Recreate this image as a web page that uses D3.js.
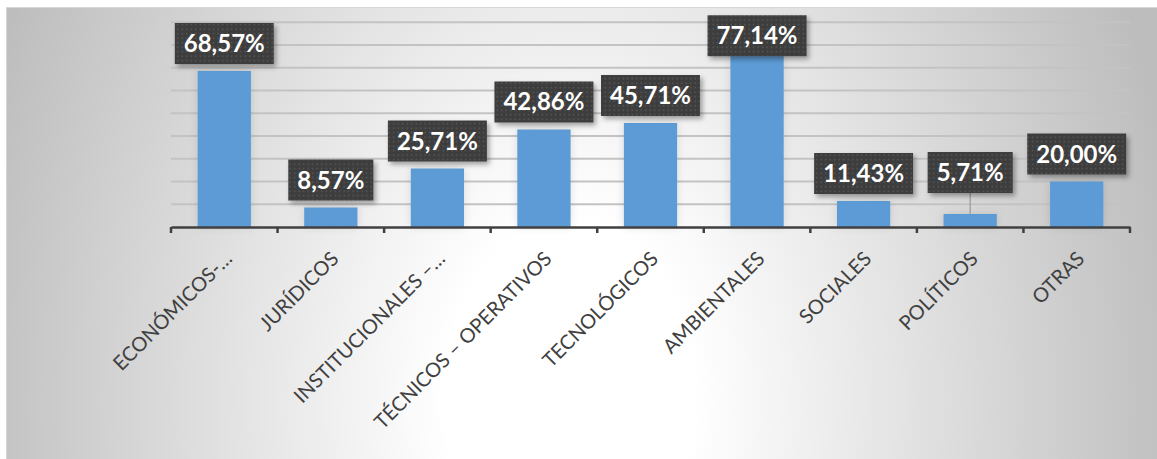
<!DOCTYPE html>
<html>
<head>
<meta charset="utf-8">
<script src="https://cdn.jsdelivr.net/npm/d3@7"></script>
<style>
  html, body { margin: 0; padding: 0; background: #ffffff; }
  svg { display: block; }
</style>
</head>
<body>
<svg id="chart" width="1157" height="459"></svg>
<script>
// Categories and percentage values
const categories = [
  "ECONÓMICOS-…", "JURÍDICOS", "INSTITUCIONALES –…", "TÉCNICOS – OPERATIVOS",
  "TECNOLÓGICOS", "AMBIENTALES", "SOCIALES", "POLÍTICOS", "OTRAS"
];
const values = [68.57, 8.57, 25.71, 42.86, 45.71, 77.14, 11.43, 5.71, 20.00];
const gridTicks = [10, 20, 30, 40, 50, 60, 70, 80, 90];

const W = 1157, H = 459;
const svg = d3.select("#chart");
const defs = svg.append("defs");

// Background: soft radial fade from white to grey
const bg = defs.append("radialGradient")
  .attr("id", "bgGrad")
  .attr("gradientUnits", "userSpaceOnUse")
  .attr("cx", 570).attr("cy", 400).attr("r", 620)
  .attr("gradientTransform", "translate(570,400) scale(1,1.45) translate(-570,-400)");
bg.append("stop").attr("offset", 0).attr("stop-color", "#ffffff");
bg.append("stop").attr("offset", 0.2).attr("stop-color", "#ffffff");
bg.append("stop").attr("offset", 1).attr("stop-color", "#bdbdbd");

// Dotted fill for the value labels
const pat = defs.append("pattern")
  .attr("id", "dots").attr("patternUnits", "userSpaceOnUse")
  .attr("width", 4.5).attr("height", 4.5);
pat.append("rect").attr("width", 4.5).attr("height", 4.5).attr("fill", "#3d3d3d");
pat.append("rect").attr("x", 1.5).attr("y", 1.5).attr("width", 1.4).attr("height", 1.4).attr("fill", "#5c5c5c");

// Shadows
const sh = defs.append("filter").attr("id", "boxShadow")
  .attr("x", "-20%").attr("y", "-30%").attr("width", "150%").attr("height", "170%");
sh.append("feDropShadow").attr("dx", 2.5).attr("dy", 3).attr("stdDeviation", 2.5)
  .attr("flood-color", "#000").attr("flood-opacity", 0.35);
const bsh = defs.append("filter").attr("id", "barShadow")
  .attr("x", "-40%").attr("y", "-10%").attr("width", "180%").attr("height", "120%");
bsh.append("feDropShadow").attr("dx", 0).attr("dy", 0).attr("stdDeviation", 4)
  .attr("flood-color", "#000").attr("flood-opacity", 0.12);

svg.append("rect")
  .attr("x", 6.5).attr("y", 7.5).attr("width", W - 6).attr("height", H - 7)
  .attr("fill", "url(#bgGrad)").attr("stroke", "#d6d6d6").attr("stroke-width", 1);

// Scales
const x = d3.scaleBand().domain(categories).range([171, 1130]).paddingInner(0.5).paddingOuter(0.25);
const band = d3.scaleBand().domain(categories).range([171, 1130]);
const y = d3.scaleLinear().domain([0, 90]).range([227, 22.25]);

// Gridlines
svg.append("g")
  .selectAll("line").data(gridTicks).join("line")
  .attr("x1", 171).attr("x2", 1130)
  .attr("y1", d => y(d)).attr("y2", d => y(d))
  .attr("stroke", "#c3c3c3").attr("stroke-width", 2);

// Bars
svg.append("g").attr("filter", "url(#barShadow)")
  .selectAll("rect").data(values).join("rect")
  .attr("x", (d, i) => x(categories[i]))
  .attr("width", x.bandwidth())
  .attr("y", d => y(d))
  .attr("height", d => y(0) - y(d))
  .attr("fill", "#5b9bd5");

// Category axis
const axis = d3.axisBottom(band).tickSize(0).tickFormat("");
const axG = svg.append("g").attr("transform", `translate(0,${y(0)})`).call(axis);
axG.select(".domain").attr("stroke", "#404040").attr("stroke-width", 2.5);
const edges = categories.map(c => band(c)).concat([1130]);
axG.append("g").selectAll("line").data(edges).join("line")
  .attr("x1", d => d).attr("x2", d => d)
  .attr("y1", 0).attr("y2", 6)
  .attr("stroke", "#404040").attr("stroke-width", 2.5);

// Rotated category labels
svg.append("g").selectAll("text").data(categories).join("text")
  .attr("transform", c => `translate(${band(c) + band.bandwidth() / 2 + 9},${y(0) + 33}) rotate(-45)`)
  .attr("text-anchor", "end")
  .attr("font-family", "Lato, 'Open Sans', sans-serif")
  .attr("font-size", 20)
  .attr("fill", "#404040")
  .text(c => c);

// Value labels in dark boxes above the bars
const fmt = v => v.toFixed(2).replace(".", ",") + "%";
const labelLift = { "POLÍTICOS": 14 };
const boxH = 41, gap = 7, padX = 9;
const minTop = y(90) - gap;
const lbl = svg.append("g");
values.forEach((v, i) => {
  const c = categories[i];
  const cx = x(c) + x.bandwidth() / 2;
  const lift = labelLift[c] || 0;
  let top = y(v) - gap - boxH - lift;
  if (top < minTop) top = minTop;
  const g = lbl.append("g");
  const t = g.append("text")
    .attr("x", cx).attr("y", top + boxH / 2 + 8.5)
    .attr("text-anchor", "middle")
    .attr("font-family", "Lato, sans-serif")
    .attr("font-weight", 700)
    .attr("font-size", 24)
    .attr("fill", "#ffffff")
    .text(fmt(v));
  const tw = t.node().getComputedTextLength();
  if (lift > 0) {
    g.insert("line", "text")
      .attr("x1", cx).attr("x2", cx)
      .attr("y1", top + boxH).attr("y2", y(v))
      .attr("stroke", "#9a9a9a").attr("stroke-width", 1.2);
  }
  g.insert("rect", "text")
    .attr("x", cx - tw / 2 - padX).attr("y", top)
    .attr("width", tw + padX * 2).attr("height", boxH)
    .attr("fill", "url(#dots)")
    .attr("filter", "url(#boxShadow)");
});
</script>
</body>
</html>
